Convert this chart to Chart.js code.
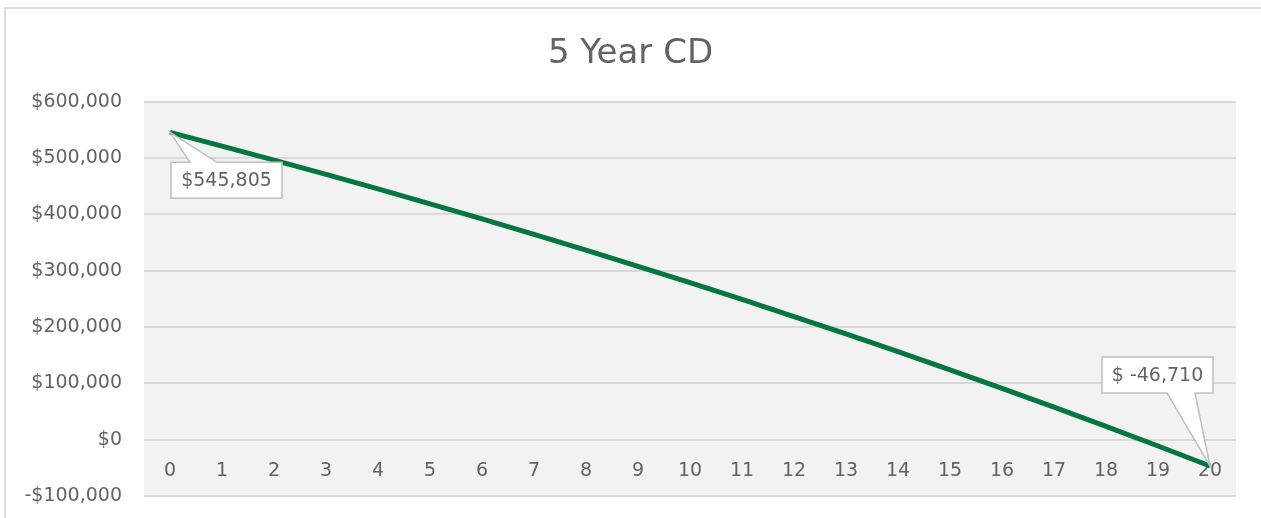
<!DOCTYPE html>
<html>
<head>
<meta charset="utf-8">
<title>5 Year CD</title>
<script src="https://cdn.jsdelivr.net/npm/chart.js@4/dist/chart.umd.min.js"></script>
<style>
  html, body { margin: 0; padding: 0; background: #fff; overflow: hidden; }
  .wrap { position: relative; width: 1261px; height: 518px; overflow: hidden; }
  .frame {
    position: absolute; left: 4px; top: 7px; width: 1320px; height: 600px;
    border: 2px solid #dcdcdc; pointer-events: none;
  }
  canvas { position: absolute; left: 0; top: 0; }
</style>
</head>
<body>
<div class="wrap">
  <canvas id="cdChart" width="1261" height="518"></canvas>
  <div class="frame"></div>
</div>
<script>
const years = ['0', '1', '2', '3', '4', '5', '6', '7', '8', '9', '10',
  '11', '12', '13', '14', '15', '16', '17', '18', '19', '20'];
const balances = [545805, 521419, 496545, 471175, 445296, 418901, 391976,
  364512, 336500, 307931, 278791, 249061, 218739, 187813, 156267, 124090,
  91266, 57791, 23650, -11184, -46710];
const yMin = -100000;
const yMax = 600000;
const yStep = 100000;

const FONT = "'DejaVu Sans', 'Liberation Sans', sans-serif";
const TEXT = '#636363';
const GREEN = '#05763f';

function money(v) {
  const s = Math.abs(v).toLocaleString('en-US');
  return v < 0 ? '-$' + s : '$' + s;
}

function calloutText(v) {
  const s = Math.abs(v).toLocaleString('en-US');
  return v < 0 ? '$ -' + s : '$' + s;
}

// grey plot area behind the grid
const plotBackground = {
  id: 'plotBackground',
  beforeDraw(chart) {
    const { ctx, chartArea: a } = chart;
    ctx.save();
    ctx.fillStyle = '#f2f2f2';
    ctx.fillRect(a.left, a.top, a.right - a.left, a.bottom - a.top);
    ctx.restore();
  }
};

// boxed labels on the first and last points, with a pointer to the point
const callouts = {
  id: 'callouts',
  afterDatasetsDraw(chart) {
    const { ctx } = chart;
    const pts = chart.getDatasetMeta(0).data;
    const vals = chart.data.datasets[0].data;
    const w = 111, h = 36;
    const items = [
      { i: 0, left: 1, top: 30, base: [19, 46], edge: 'top' },
      { i: vals.length - 1, left: -108, top: -109, base: [65, 93], edge: 'bottom' }
    ];
    ctx.save();
    ctx.font = '19px ' + FONT;
    items.forEach(it => {
      const p = pts[it.i];
      const x0 = p.x + it.left, y0 = p.y + it.top;
      ctx.beginPath();
      if (it.edge === 'top') {
        ctx.moveTo(x0, y0);
        ctx.lineTo(x0 + it.base[0], y0);
        ctx.lineTo(p.x, p.y);
        ctx.lineTo(x0 + it.base[1], y0);
        ctx.lineTo(x0 + w, y0);
        ctx.lineTo(x0 + w, y0 + h);
        ctx.lineTo(x0, y0 + h);
      } else {
        ctx.moveTo(x0, y0);
        ctx.lineTo(x0 + w, y0);
        ctx.lineTo(x0 + w, y0 + h);
        ctx.lineTo(x0 + it.base[1], y0 + h);
        ctx.lineTo(p.x, p.y);
        ctx.lineTo(x0 + it.base[0], y0 + h);
        ctx.lineTo(x0, y0 + h);
      }
      ctx.closePath();
      ctx.fillStyle = '#ffffff';
      ctx.fill();
      ctx.strokeStyle = '#bfbfbf';
      ctx.lineWidth = 1.5;
      ctx.stroke();
      ctx.fillStyle = TEXT;
      ctx.textAlign = 'center';
      ctx.textBaseline = 'middle';
      ctx.fillText(calloutText(vals[it.i]), x0 + w / 2, y0 + h / 2 + 1);
    });
    ctx.restore();
  }
};

new Chart(document.getElementById('cdChart').getContext('2d'), {
  type: 'line',
  data: {
    labels: years,
    datasets: [
      {
        label: '5 Year CD',
        data: balances,
        borderColor: GREEN,
        borderWidth: 5,
        pointRadius: 0,
        tension: 0,
        fill: false
      }
    ]
  },
  options: {
    responsive: false,
    animation: false,
    layout: { padding: { left: 25, right: 25, bottom: 22, top: 0 } },
    plugins: {
      legend: { display: false },
      tooltip: { enabled: false },
      title: {
        display: true,
        text: '5 Year CD',
        color: TEXT,
        font: { family: FONT, size: 34, weight: 'normal' },
        padding: { top: 34, bottom: 27 }
      }
    },
    scales: {
      x: {
        offset: true,
        position: { y: 0 },
        grid: { display: false, drawTicks: false },
        border: { display: false },
        afterFit(scale) {
          scale.height = 0;
          scale.paddingTop = 0;
          scale.paddingBottom = 0;
        },
        ticks: {
          color: TEXT,
          padding: 20,
          maxRotation: 0,
          autoSkip: false,
          font: { family: FONT, size: 19 }
        }
      },
      y: {
        min: yMin,
        max: yMax,
        grid: { color: '#d9d9d9', lineWidth: 2, drawTicks: false },
        border: { display: false },
        afterFit(scale) {
          scale.width = 119;
          scale.paddingTop = 0;
          scale.paddingBottom = 0;
        },
        ticks: {
          stepSize: yStep,
          color: TEXT,
          padding: 22,
          font: { family: FONT, size: 19 },
          callback(value) { return money(value); }
        }
      }
    }
  },
  plugins: [plotBackground, callouts]
});
</script>
</body>
</html>
